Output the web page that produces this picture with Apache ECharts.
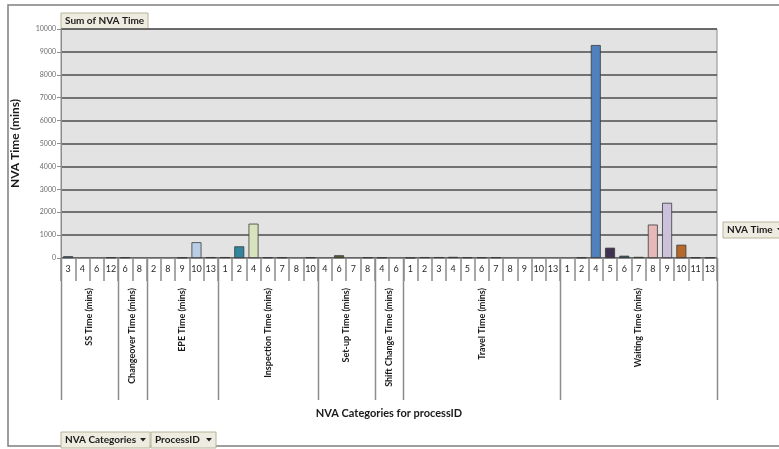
<!DOCTYPE html>
<html>
<head>
<meta charset="utf-8">
<script src="https://cdn.jsdelivr.net/npm/echarts@6/dist/echarts.min.js"></script>
<style>
html,body{margin:0;padding:0;background:#fff;}
#chart{width:779px;height:449px;}
</style>
</head>
<body>
<div id="chart"></div>
<script>
// ---- data ----
const groups = ["SS Time (mins)", "Changeover Time (mins)", "EPE Time (mins)", "Inspection Time (mins)",
  "Set-up Time (mins)", "Shift Change Time (mins)", "Travel Time (mins)", "Waiting Time (mins)"];
const processIds = [
  ["3","4","6","12"],
  ["6","8"],
  ["2","8","9","10","13"],
  ["1","2","4","6","7","8","10"],
  ["4","6","7","8"],
  ["4","6"],
  ["1","2","3","4","5","6","7","8","9","10","13"],
  ["1","2","4","5","6","7","8","9","10","11","13"]
];
const nvaTime = [
  [80, 0, 0, 30],
  [30, 0],
  [0, 0, 20, 690, 40],
  [40, 510, 1500, 30, 30, 0, 30],
  [0, 120, 0, 30],
  [20, 0],
  [10, 40, 40, 50, 30, 30, 30, 0, 0, 0, 0],
  [0, 20, 9300, 450, 100, 50, 1460, 2410, 580, 20, 20]
];
const yTicks = {min: 0, max: 10000, interval: 1000};

// ---- palette (styles, separate from data) ----
const palette = [
  '#4F81BD','#C0504D','#9BBB59','#8064A2',
  '#4BACC6','#F79646',
  '#2C4D75','#772C2A','#5F7530','#B9CDE5','#276A7C',
  '#B65708','#31859C','#D7E4BD','#CCC1DA','#B7DEE8','#FCD5B5','#95B3D7',
  '#D99694','#4F6228','#B3A2C7','#93CDDD',
  '#FAC090','#1F497D',
  '#632523','#4F6228','#3F3151','#205867','#974806','#4F81BD','#C0504D','#9BBB59','#8064A2','#4BACC6','#F79646',
  '#2C4D75','#772C2A','#4F81BD','#403152','#215968','#7F6000','#E6B9B8','#CCC1DA','#B7692B','#4F6228','#3F3151'
];

// ---- build ----
const categories = [];
const values = [];
const groupRanges = [];
groups.forEach((g, gi) => {
  const start = categories.length;
  processIds[gi].forEach((p, pi) => {
    categories.push(g + '|' + p);
    values.push(nvaTime[gi][pi]);
  });
  groupRanges.push({name: g, start: start, end: categories.length});
});
const seriesData = values.map((v, i) => ({
  value: v === 0 ? '-' : v,
  itemStyle: {color: palette[i % palette.length]}
}));

const FONT = 'Lato, "Open Sans", sans-serif';

function button(x, y, w, h, text, arrow) {
  const children = [
    {type: 'rect', shape: {x: 0, y: 0, width: w, height: h},
     style: {fill: '#EEECE1', stroke: '#B8B49A', lineWidth: 1}},
    {type: 'text', style: {x: 4, y: h / 2, text: text, fill: '#1a1a1a',
      font: 'bold 10px ' + FONT, verticalAlign: 'middle', align: 'left'}}
  ];
  if (arrow) {
    children.push({type: 'polygon', shape: {points: [[w - 10, h / 2 - 2], [w - 4, h / 2 - 2], [w - 7, h / 2 + 1.5]]},
      style: {fill: '#222'}});
  }
  return {type: 'group', x: x, y: y, silent: true, children: children};
}

const chart = echarts.init(document.getElementById('chart'), null, {renderer: 'canvas'});
const option = {
  animation: false,
  backgroundColor: '#ffffff',
  grid: {left: 61, right: 62, top: 29, bottom: 191, show: true,
    backgroundColor: '#E3E3E3', borderColor: '#8C8C8C', borderWidth: 1},
  xAxis: {
    type: 'category',
    data: categories,
    boundaryGap: true,
    axisLine: {show: true, lineStyle: {color: '#8C8C8C', width: 1}},
    axisTick: {show: true, interval: 0, length: 23, lineStyle: {color: '#8C8C8C', width: 1.5}},
    axisLabel: {interval: 0, margin: 7, fontSize: 9, color: '#2a2a2a', fontFamily: FONT,
      formatter: v => v.split('|')[1]},
    splitLine: {show: false}
  },
  yAxis: {
    type: 'value',
    min: yTicks.min, max: yTicks.max, interval: yTicks.interval,
    name: 'NVA Time (mins)',
    nameLocation: 'middle',
    nameGap: 40,
    nameRotate: 90,
    nameTextStyle: {fontSize: 12, fontWeight: 'bold', color: '#1a1a1a', fontFamily: FONT},
    axisLine: {show: true, lineStyle: {color: '#8C8C8C'}},
    axisTick: {show: true, length: 4, lineStyle: {color: '#8C8C8C'}},
    axisLabel: {fontSize: 7, color: '#6b6b6b', margin: 5, fontFamily: FONT,
      formatter: v => String(v)},
    splitLine: {show: true, lineStyle: {color: '#4d4d4d', width: 1.5}}
  },
  series: [{
    type: 'bar',
    data: seriesData,
    barCategoryGap: '30%',
    itemStyle: {borderColor: '#3a3a3a', borderWidth: 0.8}
  }],
  graphic: []
};
chart.setOption(option);

// group separators + group labels, positioned through the axis scale
const c0 = chart.convertToPixel({xAxisIndex: 0}, 0);
const c1 = chart.convertToPixel({xAxisIndex: 0}, 1);
const band = c1 - c0;
const yZero = chart.convertToPixel({yAxisIndex: 0}, 0);
const lineBottom = yZero + 142;
const graphics = [];
graphics.push({type: 'rect', silent: true, z: -10,
  shape: {x: 8, y: 5, width: 790, height: 441},
  style: {fill: 'none', stroke: '#7f7f7f', lineWidth: 1.5}});
const bounds = new Set();
groupRanges.forEach(r => { bounds.add(r.start); bounds.add(r.end); });
bounds.forEach(i => {
  const x = Math.round(c0 - band / 2 + i * band) + 0.5;
  graphics.push({type: 'line', silent: true,
    shape: {x1: x, y1: yZero, x2: x, y2: lineBottom},
    style: {stroke: '#8C8C8C', lineWidth: 1.5}});
});
groupRanges.forEach(r => {
  const cx = c0 - band / 2 + (r.start + r.end) / 2 * band;
  graphics.push({type: 'text', silent: true, x: cx, y: yZero + 30, rotation: Math.PI / 2,
    style: {text: r.name, align: 'right', verticalAlign: 'middle',
      font: 'bold 9px ' + FONT, fill: '#1a1a1a'}});
});
const plotMid = (chart.convertToPixel({xAxisIndex: 0}, 0) + chart.convertToPixel({xAxisIndex: 0}, categories.length - 1)) / 2;
graphics.push({type: 'text', silent: true, x: plotMid, y: yZero + 155,
  style: {text: 'NVA Categories for processID', align: 'center', verticalAlign: 'middle',
    font: 'bold 11px ' + FONT, fill: '#1a1a1a'}});
graphics.push(button(61, 13, 87, 16, 'Sum of NVA Time', false));
graphics.push(button(723, 222, 64, 16, 'NVA Time', true));
graphics.push(button(61, 432, 89, 16, 'NVA Categories', true));
graphics.push(button(151, 432, 65, 16, 'ProcessID', true));
chart.setOption({graphic: graphics});
</script>
</body>
</html>
